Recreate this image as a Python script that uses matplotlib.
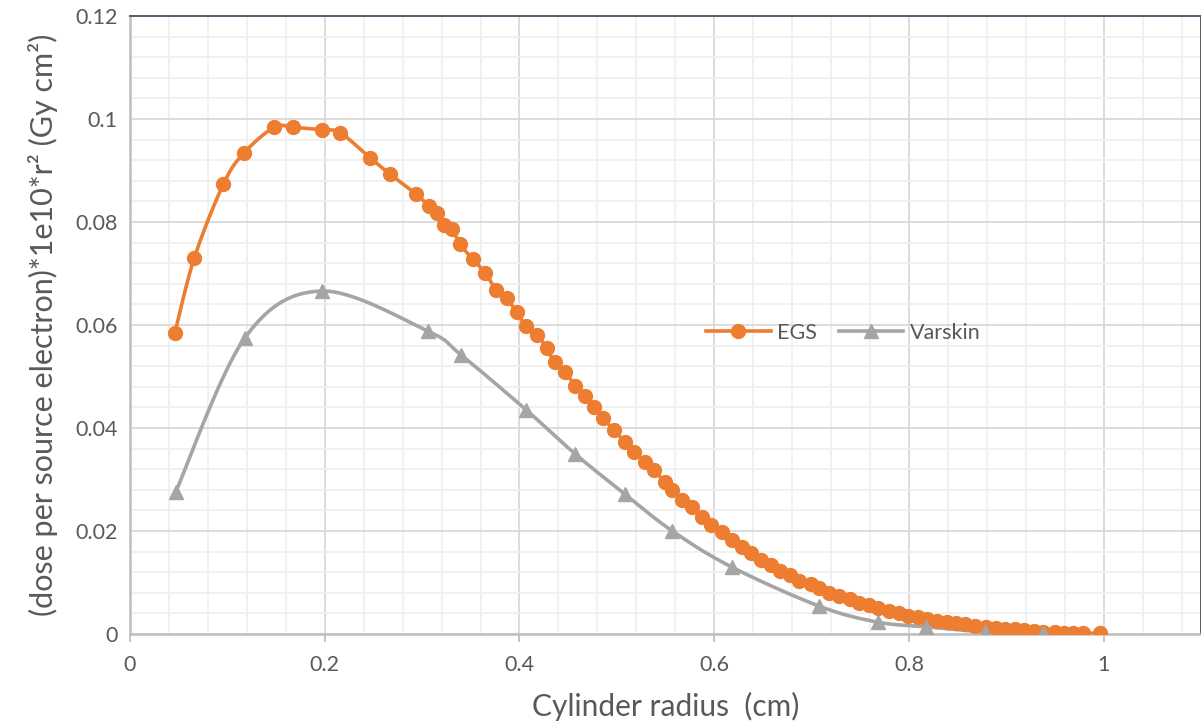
import numpy as np
import matplotlib
matplotlib.use("Agg")
import matplotlib.pyplot as plt
from matplotlib.ticker import MultipleLocator, FuncFormatter

# values
egs_x = [0.046, 0.066, 0.096, 0.117, 0.148, 0.167, 0.197, 0.216, 0.247, 0.267,
         0.294, 0.307, 0.315, 0.323, 0.331, 0.339, 0.352, 0.365, 0.376, 0.387,
         0.397, 0.407, 0.418, 0.428, 0.436, 0.447, 0.457, 0.467, 0.477, 0.486,
         0.497, 0.508, 0.518, 0.529, 0.538, 0.549, 0.557, 0.567, 0.577, 0.588,
         0.597, 0.608, 0.618, 0.629, 0.638, 0.648, 0.658, 0.668, 0.678, 0.687,
         0.699, 0.708, 0.718, 0.728, 0.739, 0.749, 0.759, 0.768, 0.780, 0.790,
         0.799, 0.809, 0.819, 0.829, 0.839, 0.848, 0.858, 0.868, 0.879, 0.889,
         0.899, 0.909, 0.918, 0.928, 0.938, 0.950, 0.959, 0.969, 0.979, 0.996]
egs_y = [0.0584, 0.0730, 0.0874, 0.0934, 0.0984, 0.0984, 0.0979, 0.0973, 0.0924, 0.0893,
         0.0854, 0.0831, 0.0817, 0.0794, 0.0786, 0.0757, 0.0728, 0.0701, 0.0668, 0.0652,
         0.0625, 0.0598, 0.0581, 0.0555, 0.0528, 0.0509, 0.0482, 0.0462, 0.0441, 0.0419,
         0.0396, 0.0373, 0.0353, 0.0334, 0.0318, 0.0295, 0.0280, 0.0260, 0.0247, 0.0227,
         0.0212, 0.0198, 0.0183, 0.0169, 0.0157, 0.0144, 0.0134, 0.0122, 0.0115, 0.0103,
         0.0097, 0.0089, 0.0080, 0.0074, 0.0068, 0.0060, 0.0056, 0.0050, 0.0045, 0.0041,
         0.0035, 0.0033, 0.0029, 0.0025, 0.0023, 0.0021, 0.0019, 0.0016, 0.0014, 0.0012,
         0.0010, 0.0010, 0.0008, 0.0006, 0.0004, 0.0004, 0.0002, 0.0002, 0.0002, 0.0001]

vars_x = [0.047, 0.118, 0.197, 0.306, 0.340, 0.407, 0.457, 0.508, 0.557, 0.618,
          0.708, 0.768, 0.818, 0.878, 0.938]
vars_y = [0.0276, 0.0575, 0.0666, 0.0588, 0.0542, 0.0435, 0.0350, 0.0272, 0.0200, 0.0130,
          0.0054, 0.0023, 0.0014, 0.0004, 0.0001]

XMAX = 1.1
YMAX = 0.12
ORANGE = "#ED7D31"
GREY = "#A5A5A5"
TXT = "#595959"


def smooth(xs, ys, n=20):
    # excel-like smoothed line (catmull-rom bezier), done in scaled space
    sx, sy = 1.0 / XMAX, 0.6 / YMAX
    p = np.column_stack([np.array(xs) * sx, np.array(ys) * sy])
    out = [p[0]]
    t = np.linspace(0, 1, n)[1:, None]
    for i in range(len(p) - 1):
        p0 = p[i - 1] if i > 0 else p[i]
        p3 = p[i + 2] if i + 2 < len(p) else p[i + 1]
        p1, p2 = p[i], p[i + 1]
        c1 = p1 + (p2 - p0) / 6
        c2 = p2 - (p3 - p1) / 6
        seg = ((1 - t) ** 3) * p1 + 3 * ((1 - t) ** 2) * t * c1 + 3 * (1 - t) * t ** 2 * c2 + t ** 3 * p2
        out.extend(seg)
    out = np.array(out)
    return out[:, 0] / sx, out[:, 1] / sy


plt.rcParams['font.family'] = ['Lato', 'DejaVu Sans']

fig = plt.figure(figsize=(12.01, 7.26), dpi=100)
ax = fig.add_axes([130 / 1201, 92 / 726, 1071 / 1201, 618 / 726])

lx, ly = smooth(egs_x, egs_y)
ax.plot(lx, ly, color=ORANGE, lw=2.6, zorder=3)
ax.plot(egs_x, egs_y, 'o', color=ORANGE, ms=10, zorder=4)
vx, vy = smooth(vars_x, vars_y)
ax.plot(vx, vy, color=GREY, lw=2.6, zorder=3)
ax.plot(vars_x, vars_y, '^', color=GREY, ms=10, zorder=4)

# legend handles
h1, = ax.plot([], [], '-o', color=ORANGE, lw=2.6, ms=10)
h2, = ax.plot([], [], '-^', color=GREY, lw=2.6, ms=10)
ax.legend([h1, h2], ["EGS", "Varskin"], ncol=2, frameon=False,
          loc='center', bbox_to_anchor=(0.666, 0.487), fontsize=15.5,
          handlelength=3.0, columnspacing=1.0, handletextpad=0.3,
          labelcolor=TXT)

ax.set_xlim(0, XMAX)
ax.set_ylim(0, YMAX)
ax.xaxis.set_major_locator(MultipleLocator(0.2))
ax.xaxis.set_minor_locator(MultipleLocator(0.04))
ax.yaxis.set_major_locator(MultipleLocator(0.02))
ax.yaxis.set_minor_locator(MultipleLocator(0.004))
fmt = FuncFormatter(lambda v, p: ("%.2f" % v).rstrip('0').rstrip('.') if v > 1e-9 else "0")
ax.xaxis.set_major_formatter(fmt)
ax.yaxis.set_major_formatter(fmt)

ax.grid(which='major', color='#D9D9D9', lw=1.3)
ax.grid(which='minor', color='#F0F0F0', lw=1.3)
ax.set_axisbelow(True)

ax.tick_params(axis='x', which='major', length=6, width=1.3, color='#BFBFBF',
               labelsize=15.5, labelcolor=TXT, pad=9)
ax.tick_params(axis='y', which='major', length=0, labelsize=15.5, labelcolor=TXT, pad=9)
ax.tick_params(which='minor', length=0)

for s in ['left', 'bottom']:
    ax.spines[s].set_color('#BFBFBF')
    ax.spines[s].set_linewidth(1.8)
for s in ['top', 'right']:
    ax.spines[s].set_color('#44546A')
    ax.spines[s].set_linewidth(1.3)

ax.set_xlabel("Cylinder radius  (cm)", fontsize=21.5, color=TXT, labelpad=12)
ax.set_ylabel("(dose per source electron)*1e10*r² (Gy cm²)", fontsize=22, color=TXT, labelpad=12)

fig.savefig("out.png", dpi=100)
